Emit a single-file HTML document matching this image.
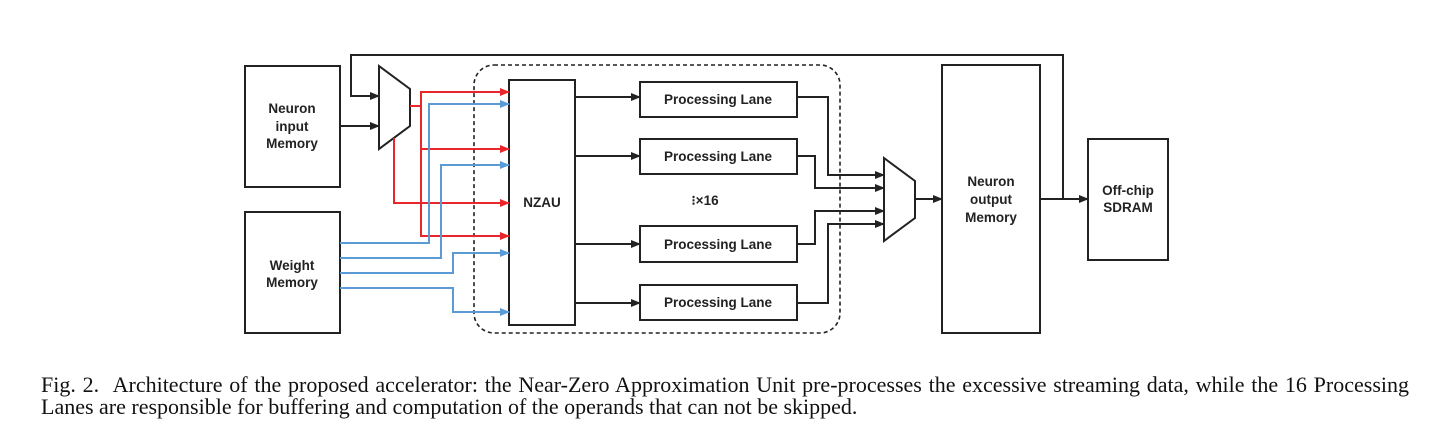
<!DOCTYPE html>
<html><head><meta charset="utf-8"><style>
html,body{margin:0;padding:0;background:#fff;width:1446px;height:436px;overflow:hidden;position:relative}
svg{position:absolute;left:0;top:0}
.cap{position:absolute;left:41px;width:1368px;font-family:"Liberation Serif",serif;font-size:22px;color:#111;text-align:justify;text-align-last:justify;line-height:22px;white-space:nowrap}
</style></head><body>
<svg width="1446" height="436" viewBox="0 0 1446 436">
<defs>
<marker id="ak" markerWidth="10" markerHeight="8" refX="9" refY="4" orient="auto" markerUnits="userSpaceOnUse"><path d="M0,0 L10,4 L0,8z" fill="#222"/></marker>
<marker id="ar" markerWidth="10" markerHeight="8" refX="9" refY="4" orient="auto" markerUnits="userSpaceOnUse"><path d="M0,0 L10,4 L0,8z" fill="#e8262b"/></marker>
<marker id="ab" markerWidth="10" markerHeight="8" refX="9" refY="4" orient="auto" markerUnits="userSpaceOnUse"><path d="M0,0 L10,4 L0,8z" fill="#5b9bd5"/></marker>
</defs>
<g fill="none" stroke="#222" stroke-width="2">
<rect x="245" y="66" width="95" height="121"/>
<rect x="245" y="212" width="95" height="121"/>
<polygon points="379,66 410,89 410,126 379,149"/>
<rect x="474" y="65" width="366" height="268" rx="20" stroke-dasharray="4,3" stroke-width="1.6"/>
<rect x="509" y="80" width="66" height="245"/>
<rect x="640" y="82" width="157" height="35"/>
<rect x="640" y="139" width="157" height="35"/>
<rect x="640" y="226" width="157" height="36"/>
<rect x="640" y="285" width="157" height="35"/>
<polygon points="884,158 915,181 915,218 884,241"/>
<rect x="942" y="65" width="98" height="268"/>
<rect x="1088" y="139" width="80" height="121"/>
<polyline points="1063,199 1063,55 351,55 351,96 379,96" marker-end="url(#ak)"/>
<line x1="340" y1="126" x2="379" y2="126" marker-end="url(#ak)"/>
<line x1="575" y1="97" x2="640" y2="97" marker-end="url(#ak)"/>
<line x1="575" y1="156" x2="640" y2="156" marker-end="url(#ak)"/>
<line x1="575" y1="244" x2="640" y2="244" marker-end="url(#ak)"/>
<line x1="575" y1="303" x2="640" y2="303" marker-end="url(#ak)"/>
<polyline points="797,97 828,97 828,175 884,175" marker-end="url(#ak)"/>
<polyline points="797,156 815,156 815,188 884,188" marker-end="url(#ak)"/>
<polyline points="797,244 815,244 815,211 884,211" marker-end="url(#ak)"/>
<polyline points="797,303 828,303 828,224 884,224" marker-end="url(#ak)"/>
<line x1="915" y1="199" x2="942" y2="199" marker-end="url(#ak)"/>
<line x1="1040" y1="199" x2="1088" y2="199" marker-end="url(#ak)"/>
</g>
<g fill="none" stroke="#e8262b" stroke-width="2">
<line x1="410" y1="106" x2="421" y2="106"/>
<polyline points="421,106 421,92 509,92" marker-end="url(#ar)"/>
<polyline points="421,106 421,236 509,236" marker-end="url(#ar)"/>
<line x1="421" y1="149" x2="509" y2="149" marker-end="url(#ar)"/>
<polyline points="394,138 394,203 509,203" marker-end="url(#ar)"/>
</g>
<g fill="none" stroke="#5b9bd5" stroke-width="2">
<polyline points="340,243 429,243 429,104 509,104" marker-end="url(#ab)"/>
<polyline points="340,258 441,258 441,165 509,165" marker-end="url(#ab)"/>
<polyline points="340,273 453,273 453,253 509,253" marker-end="url(#ab)"/>
<polyline points="340,288 453,288 453,312 509,312" marker-end="url(#ab)"/>
</g>
<g font-family="Liberation Sans,sans-serif" font-weight="bold" font-size="13.5" fill="#222" text-anchor="middle">
<text x="292" y="113">Neuron</text><text x="292" y="131">input</text><text x="292" y="148">Memory</text>
<text x="292" y="270">Weight</text><text x="292" y="287">Memory</text>
<text x="542" y="207">NZAU</text>
<text x="718" y="104">Processing Lane</text>
<text x="718" y="161">Processing Lane</text>
<text x="718" y="249">Processing Lane</text>
<text x="718" y="307">Processing Lane</text>
<text x="705" y="205">⁝×16</text>
<text x="991" y="186">Neuron</text><text x="991" y="204">output</text><text x="991" y="222">Memory</text>
<text x="1128" y="195">Off-chip</text><text x="1128" y="212">SDRAM</text>
</g>
</svg>
<div class="cap" style="top:374px">Fig. 2. &nbsp;Architecture of the proposed accelerator: the Near-Zero Approximation Unit pre-processes the excessive streaming data, while the 16 Processing</div>
<div class="cap" style="top:396px;text-align-last:left">Lanes are responsible for buffering and computation of the operands that can not be skipped.</div>
</body></html>
